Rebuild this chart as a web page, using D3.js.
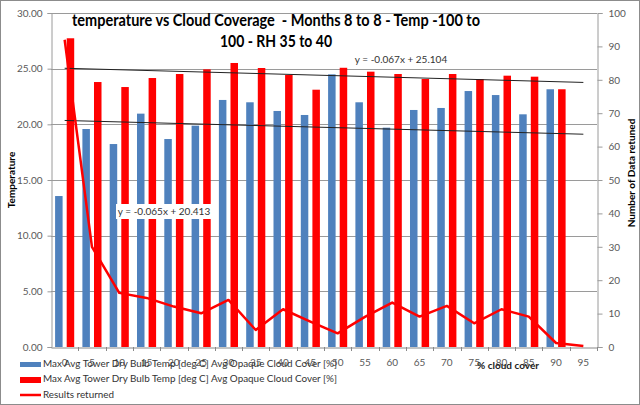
<!DOCTYPE html>
<html><head><meta charset="utf-8">
<script src="https://cdn.jsdelivr.net/npm/d3@7/dist/d3.min.js"></script>
<style>
html,body{margin:0;padding:0;background:#fff;}
svg{display:block;font-family:Lato,"Open Sans",sans-serif;}
</style></head>
<body>
<svg id="chart" width="640" height="405"></svg>
<script>
const categories = ["0","5","10","15","20","25","30","35","40","45","50","55","60","65","70","75","80","85","90","95"];
const blueTemp = [13.56,19.58,18.23,20.96,18.68,19.88,22.19,21.98,21.2,20.84,24.49,21.98,19.7,21.29,21.47,22.99,22.63,20.9,23.15,null];
const redTemp  = [27.73,23.8,23.35,24.16,24.52,24.94,25.51,25.06,24.43,23.11,25.08,24.73,24.52,24.07,24.52,24.07,24.37,24.28,23.15,null];
const resultsReturned = [92,30,16.2,14.7,12.1,10.1,14.1,5.1,11.3,7.6,4.1,9.0,13.3,9.1,12.3,7.1,11.3,9.1,1.2,0.3];
const trendSlopes = [-0.065,-0.067];
const trendIntercepts = [20.413,25.104];
const trendLabels = ["y = -0.065x + 20.413","y = -0.067x + 25.104"];
const leftTicks = [0,5,10,15,20,25,30];
const rightTicks = [0,10,20,30,40,50,60,70,80,90,100];
const seriesNames = ["Max Avg Tower Dry Bulb Temp [deg C] Avg Opaque Cloud Cover [%]","Max Avg Tower Dry Bulb Temp [deg C] Avg Opaque Cloud Cover [%]","Results returned"];
const titleLines = ["temperature vs Cloud Coverage  - Months 8 to 8 - Temp -100 to","100 - RH 35 to 40"];

const BLUE = "#4F81BD", RED = "#FF0000", GRID = "#9a9a9a", TXT = "#595959";
const svg = d3.select("#chart");
const L = 51, R = 597, T = 13, B = 347;

const x = d3.scaleBand().domain(categories).range([L, R]).paddingInner(0).paddingOuter(0);
const yL = d3.scaleLinear().domain([0,30]).range([B, T]);
const yR = d3.scaleLinear().domain([0,100]).range([B, T]);
const bw = x.bandwidth();

// outer border
svg.append("rect").attr("x",0.5).attr("y",0.5).attr("width",639).attr("height",404)
  .attr("fill","#fff").attr("stroke","#8c8c8c");

// gridlines
svg.append("g").selectAll("line").data(leftTicks.filter(d=>d>0)).join("line")
  .attr("x1",L).attr("x2",R).attr("y1",d=>Math.round(yL(d))+0.5).attr("y2",d=>Math.round(yL(d))+0.5)
  .attr("stroke",GRID).attr("stroke-width",1);

// left axis
const axL = svg.append("g").attr("transform",`translate(${L+0.5},0)`)
  .call(d3.axisLeft(yL).tickValues(leftTicks).tickFormat(d3.format(".2f")).tickSize(4).tickPadding(5));
axL.select(".domain").attr("stroke",GRID);
axL.selectAll(".tick line").attr("stroke",GRID);
axL.selectAll("text").attr("fill",TXT).style("font-size","10px").style("font-family","Lato,sans-serif");

// right axis
const axR = svg.append("g").attr("transform",`translate(${R+0.5},0)`)
  .call(d3.axisRight(yR).tickValues(rightTicks).tickSize(5).tickPadding(6));
axR.select(".domain").attr("stroke",GRID);
axR.selectAll(".tick line").attr("stroke",GRID);
axR.selectAll("text").attr("fill",TXT).style("font-size","10px").style("font-family","Lato,sans-serif");

// bars
svg.append("g").selectAll("rect").data(categories.map((c,i)=>({c,v:blueTemp[i]})).filter(d=>d.v!=null)).join("rect")
  .attr("x",d=>x(d.c)+0.15*bw).attr("width",0.275*bw)
  .attr("y",d=>yL(d.v)).attr("height",d=>yL(0)-yL(d.v)).attr("fill",BLUE);
svg.append("g").selectAll("rect").data(categories.map((c,i)=>({c,v:redTemp[i]})).filter(d=>d.v!=null)).join("rect")
  .attr("x",d=>x(d.c)+0.575*bw).attr("width",0.275*bw)
  .attr("y",d=>yL(d.v)).attr("height",d=>yL(0)-yL(d.v)).attr("fill",RED);

// x axis
const axX = svg.append("g").attr("transform",`translate(0,${B+0.5})`)
  .call(d3.axisBottom(x).tickSize(0).tickPadding(11));
axX.select(".domain").attr("stroke","#888");
axX.selectAll("text").attr("fill",TXT).style("font-size","10px").style("font-family","Lato,sans-serif");
svg.append("g").selectAll("line").data(categories.slice(1).concat(["__end"])).join("line")
  .attr("x1",(d,i)=>Math.round(L+(i+1)*bw)+0.5).attr("x2",(d,i)=>Math.round(L+(i+1)*bw)+0.5)
  .attr("y1",B).attr("y2",B+4).attr("stroke","#888");

// trendlines
const cx = c => x(c) + bw/2;
trendSlopes.forEach((m,k)=>{
  const b = trendIntercepts[k];
  const c0 = categories[0], c1 = categories[categories.length-1];
  svg.append("line")
    .attr("x1",cx(c0)).attr("y1",yL(m*1+b))
    .attr("x2",cx(c1)).attr("y2",yL(m*categories.length+b))
    .attr("stroke","#222").attr("stroke-width",1);
});

// results returned line
const line = d3.line().x((d,i)=>cx(categories[i])).y(d=>yR(d));
svg.append("path").datum(resultsReturned).attr("d",line)
  .attr("fill","none").attr("stroke",RED).attr("stroke-width",2.5).attr("stroke-linejoin","round");

// trend labels
svg.append("rect").attr("x",116).attr("y",204).attr("width",97).attr("height",15).attr("fill","#fff");
svg.append("text").attr("x",164).attr("y",215).attr("text-anchor","middle")
  .style("font-size","10px").attr("fill","#333").text(trendLabels[0]);
svg.append("text").attr("x",401).attr("y",63).attr("text-anchor","middle")
  .style("font-size","10px").attr("fill","#333").text(trendLabels[1]);

// title
svg.append("text").attr("x",276).attr("y",26).attr("text-anchor","middle")
  .style("font-size","17px").style("font-weight","bold").style("white-space","pre").attr("fill","#000")
  .attr("textLength",408).attr("lengthAdjust","spacingAndGlyphs").text(titleLines[0]);
svg.append("text").attr("x",276).attr("y",46.5).attr("text-anchor","middle")
  .style("font-size","17px").style("font-weight","bold").attr("fill","#000")
  .attr("textLength",112).attr("lengthAdjust","spacingAndGlyphs").text(titleLines[1]);

// axis titles
svg.append("text").attr("transform","translate(15,180) rotate(-90)").attr("text-anchor","middle")
  .style("font-size","10px").style("font-weight","bold").attr("fill","#000").text("Temperature");
svg.append("text").attr("transform","translate(635,173) rotate(-90)").attr("text-anchor","middle")
  .style("font-size","10px").style("font-weight","bold").attr("fill","#000").text("Number of Data retuned");
svg.append("text").attr("x",508).attr("y",369).attr("text-anchor","middle")
  .style("font-size","10px").style("font-weight","bold").attr("fill","#222").text("% cloud cover");

// legend
const lg = svg.append("g");
lg.append("rect").attr("x",20).attr("y",362).attr("width",21).attr("height",5).attr("fill",BLUE);
lg.append("rect").attr("x",20).attr("y",377).attr("width",21).attr("height",6).attr("fill",RED);
lg.append("line").attr("x1",20).attr("x2",41).attr("y1",395).attr("y2",395).attr("stroke",RED).attr("stroke-width",2.5);
[367,382,398].forEach((yy,i)=>{
  lg.append("text").attr("x",43).attr("y",yy).style("font-size","10px").attr("fill","#333")
    .attr("textLength", i<2 ? 294 : 71).attr("lengthAdjust","spacingAndGlyphs").text(seriesNames[i]);
});
</script>
</body></html>
